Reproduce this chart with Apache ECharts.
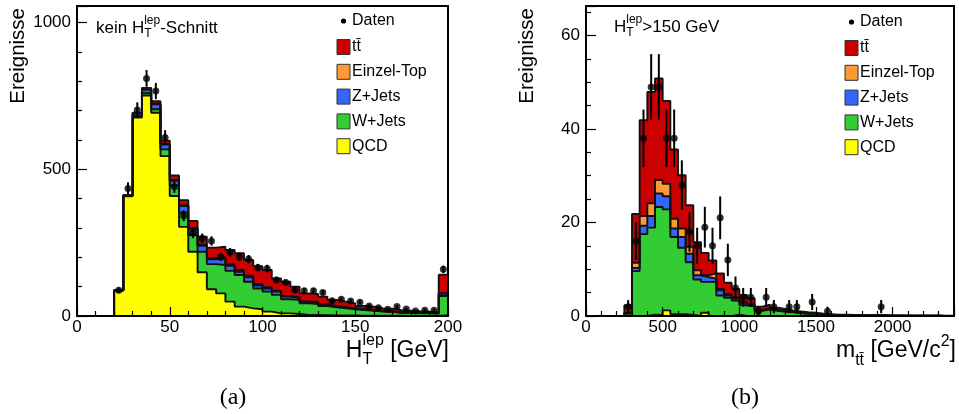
<!DOCTYPE html>
<html>
<head>
<meta charset="utf-8">
<script src="https://cdn.jsdelivr.net/npm/echarts@6/dist/echarts.min.js"></script>
<style>
  html, body { margin: 0; padding: 0; background: #fff; }
  #c { width: 959px; height: 414px; }
</style>
</head>
<body>
<div id="c"></div>
<script>
// ---- (a) H_T^lep, no cut: bin edges in GeV and stacked contributions ----
const htEdges = [0,5,10,15,20,25,30,35,40,45,50,55,60,65,70,75,80,85,90,95,100,105,110,115,120,125,130,135,140,145,150,155,160,165,170,175,180,185,190,195,200];
const htQCD = [0,0,0,0,88,408,677,752,693,545,409,304,219,149,91,77,49,32,26,23,15,9,9,7,4,4,3,2,2,2,1,1,1,1,1,0,0,0,0,3];
const htW   = [0,0,0,0,0,2,5,8,12,23,36,49,57,70,86,97,105,108,91,71,68,63,48,48,39,37,31,28,24,21,19,17,14,13,10,11,9,9,8,65];
const htZ   = [0,0,0,0,0,2,8,12,17,17,16,22,19,20,16,19,17,11,15,11,11,11,9,6,5,5,4,3,3,2,2,2,1,1,1,1,1,1,1,8];
const htST  = [0,0,0,0,0,0,1,1,2,2,3,3,4,4,5,7,5,6,5,4,4,3,2,2,2,2,2,1,1,1,1,1,1,1,0,0,0,0,0,2];
const htTT  = [0,0,0,0,0,0,2,5,8,11,15,17,25,27,35,36,49,57,54,61,59,42,49,37,27,27,26,21,19,17,11,11,9,9,8,6,6,5,5,63];
const htData = [null,null,null,null,88,435,702,810,767,609,441,342,282,265,256,202,217,202,194,165,162,123,114,89,86,86,80,52,57,51,47,34,28,23,32,24,17,20,20,159];

// ---- (b) m_ttbar with H_T^lep > 150 GeV ----
const mEdges = [0,50,100,150,200,250,300,350,400,450,500,550,600,650,700,750,800,850,900,950,1000,1050,1100,1150,1200,1250,1300,1350,1400,1450,1500,1550,1600,1650,1700,1750,1800,1850,1900,1950,2000,2050,2100,2150,2200,2250,2300,2350,2400];
const mQCD = [0,0,0,0,0,0,0,0,0.3,0.2,1.2,0.4,0.4,0.2,0,0.7,0,0,0,0.3,0,0,0,0,0,0,0,0,0,0,0,0,0,0,0,0,0,0,0,0,0,0,0,0,0,0,0,0];
const mW   = [0,0,0,0,0,0.5,9.6,17.5,18.6,23.1,21.6,16.5,14.2,11.3,7.8,6.6,7.3,4.4,3.9,3.0,2.3,2.0,1.1,1.4,1.1,0.9,0.8,0.6,0.5,0.5,0.3,0.25,0.2,0.2,0.15,0.1,0.1,0.1,0.1,0.08,0.08,0.06,0.05,0.05,0.04,0.04,0.03,0.03];
const mZ   = [0,0,0,0,0,0.1,0.7,1.8,2.5,2.9,2.8,1.8,2.3,1.8,0.9,1.0,0.7,1.1,0.5,0.5,0.5,0.3,0.1,0.1,0.1,0.1,0.1,0.1,0,0,0,0,0,0,0,0,0,0,0,0,0,0,0,0,0,0,0,0];
const mST  = [0,0,0,0,0,0.1,1.1,2.1,2.7,2.9,2.7,2.1,1.8,1.5,1.1,0.4,1.1,0.3,0.3,0.2,0.2,0.2,0.1,0.1,0.1,0.1,0,0,0,0,0,0,0,0,0,0,0,0,0,0,0,0,0,0,0,0,0,0];
const mTT  = [0,0,0,0,0,1.6,10.4,20.5,23.8,21.7,17.7,14.8,11.4,8.9,6.0,4.8,2.8,3.3,2.4,1.8,1.5,1.3,0.7,0.8,0.5,0.4,0.3,0.3,0.3,0.2,0.2,0.15,0.1,0.1,0.1,0.1,0.05,0.05,0.05,0.04,0.04,0.03,0.03,0.02,0.02,0.02,0.01,0.01];
const mData = [null,null,null,null,null,2,16,38,49,49,38,38,28,18,15,19,15,21,12,6,4,4,1,4,2,null,2,2,null,3,null,1,null,null,null,null,null,null,2,null,null,null,null,null,null,null,null,null];

// ---- legend entries (bottom of stack first) ----
const procNames  = ['QCD', 'W+Jets', 'Z+Jets', 'Einzel-Top', 't\u0074\u0304'];
const procColors = ['#ffff00', '#33cc33', '#3366ff', '#ff9933', '#cc0000'];
const dataName = 'Daten';

const FONT = '"Liberation Sans", Arial, Helvetica, sans-serif';
const SERIF = '"Liberation Serif", "DejaVu Serif", serif';

const chart = echarts.init(document.getElementById('c'), null, { renderer: 'canvas' });

// running sums of the components, bottom to top
function cumulate(comps) {
  const out = [];
  comps.forEach((vals, k) => {
    out.push(vals.map((v, i) => (k ? out[k - 1][i] : 0) + v));
  });
  return out;
}
// step-histogram points: left edges plus closing point at the last upper edge
function stepPoints(edges, vals) {
  const pts = vals.map((v, i) => [edges[i], v]);
  pts.push([edges[edges.length - 1], vals[vals.length - 1]]);
  return pts;
}
function dataPoints(edges, vals) {
  const pts = [];
  vals.forEach((v, i) => { if (v !== null) pts.push([(edges[i] + edges[i + 1]) / 2, v]); });
  return pts;
}

function histSeries(axis, edges, comps) {
  const cum = cumulate(comps);
  const out = [];
  // fills: the full sum first, each lower partial sum painted over it
  for (let k = cum.length - 1; k >= 0; k--) {
    out.push({
      type: 'line', xAxisIndex: axis, yAxisIndex: axis, step: 'end',
      data: stepPoints(edges, cum[k]), symbol: 'none', silent: true, animation: false,
      z: 2,
      lineStyle: { width: 0 },
      areaStyle: { color: procColors[k], opacity: 1, origin: 'start' }
    });
  }
  // outlines of every partial sum on top of all fills
  for (let k = cum.length - 1; k >= 0; k--) {
    out.push({
      type: 'line', xAxisIndex: axis, yAxisIndex: axis, step: 'end',
      data: stepPoints(edges, cum[k]), symbol: 'none', silent: true, animation: false,
      z: 3,
      lineStyle: { color: '#111', width: 1.9 }
    });
  }
  return out;
}

function dataSeries(axis, edges, vals) {
  const pts = dataPoints(edges, vals);
  return [
    {
      type: 'custom', xAxisIndex: axis, yAxisIndex: axis, data: pts, animation: false, z: 4, silent: true,
      renderItem: function (params, api) {
        const x = api.value(0), v = api.value(1), e = Math.sqrt(v);
        const p1 = api.coord([x, v - e]), p2 = api.coord([x, v + e]);
        return { type: 'line', shape: { x1: p1[0], y1: p1[1], x2: p2[0], y2: p2[1] },
                 style: { stroke: '#000', lineWidth: 2 } };
      }
    },
    {
      type: 'scatter', xAxisIndex: axis, yAxisIndex: axis, data: pts, symbol: 'circle', symbolSize: 7,
      itemStyle: { color: '#000' }, animation: false, z: 5, silent: true
    }
  ];
}

const tickLbl = { fontSize: 17, fontFamily: FONT, color: '#000' };

function bottomAxis(grid, min, max, interval, split) {
  return {
    type: 'value', gridIndex: grid, position: 'bottom', min: min, max: max, interval: interval, z: 10,
    axisLine: { show: true, onZero: false, lineStyle: { color: '#000', width: 2 } },
    axisTick: { show: true, inside: true, length: 9, lineStyle: { color: '#000', width: 1.2 } },
    minorTick: { show: true, splitNumber: split, length: 5, lineStyle: { color: '#000', width: 1.2 } },
    axisLabel: Object.assign({ margin: 3, showMinLabel: true, showMaxLabel: true,
      formatter: v => (v % interval === 0 ? String(v) : '') }, tickLbl),
    splitLine: { show: false }
  };
}
function leftAxis(grid, max, interval, split) {
  return {
    type: 'value', gridIndex: grid, position: 'left', min: 0, max: max, interval: interval, z: 10,
    axisLine: { show: true, onZero: false, lineStyle: { color: '#000', width: 2 } },
    axisTick: { show: true, inside: true, length: 10, lineStyle: { color: '#000', width: 1.2 } },
    minorTick: { show: true, splitNumber: split, length: 5, lineStyle: { color: '#000', width: 1.2 } },
    axisLabel: Object.assign({ margin: 6, formatter: v => (v % interval === 0 ? String(v) : '') }, tickLbl),
    splitLine: { show: false }
  };
}
function frameAxis(grid, pos) {
  return {
    type: 'value', gridIndex: grid, position: pos, min: 0, max: 1, z: 10,
    axisLine: { show: true, onZero: false, lineStyle: { color: '#000', width: 2 } },
    axisTick: { show: false }, axisLabel: { show: false }, splitLine: { show: false }
  };
}

// ---- text with sub/superscripts, laid out piecewise ----
const mctx = document.createElement('canvas').getContext('2d');
function tw(t, s, fam) { mctx.font = s + 'px ' + (fam || FONT); return mctx.measureText(t).width; }
function latex(pieces, x, y, align) {
  const widths = pieces.map(p => p.t !== undefined ? tw(p.t, p.s) :
    Math.max(tw(p.sub.t, p.sub.s), tw(p.sup.t, p.sup.s)));
  const total = widths.reduce((a, b) => a + b, 0);
  let cx = align === 'right' ? x - total : x;
  const els = [];
  pieces.forEach((p, i) => {
    const list = p.t !== undefined ? [p] : [p.sub, p.sup];
    list.forEach(q => els.push({
      type: 'text', x: cx, y: y + (q.dy || 0), silent: true, z: 20,
      style: { text: q.t, font: q.s + 'px ' + FONT, fill: '#000', align: 'left', verticalAlign: 'middle' }
    }));
    cx += widths[i];
  });
  return els;
}

function legend(x, yTop) {
  const els = [];
  els.push({ type: 'circle', shape: { cx: x + 6.5, cy: yTop, r: 2.6 }, style: { fill: '#000' }, silent: true, z: 20 });
  els.push({ type: 'text', x: x + 15, y: yTop, silent: true, z: 20,
    style: { text: dataName, font: '16px ' + FONT, fill: '#000', align: 'left', verticalAlign: 'middle' } });
  const order = [4, 3, 2, 1, 0];
  order.forEach((k, j) => {
    const cy = yTop + 26 + j * 24.8;
    els.push({ type: 'rect', shape: { x: x, y: cy - 7.5, width: 13, height: 15 },
      style: { fill: procColors[k], stroke: '#333', lineWidth: 1 }, silent: true, z: 20 });
    els.push({ type: 'text', x: x + 15, y: cy, silent: true, z: 20,
      style: { text: procNames[k], font: '16px ' + FONT, fill: '#000', align: 'left', verticalAlign: 'middle' } });
  });
  return els;
}

const graphics = []
  .concat(legend(337, 21))
  .concat(legend(845, 22))
  // panel titles
  .concat(latex([{ t: 'kein H', s: 17 }, { sub: { t: 'T', s: 12, dy: 6 }, sup: { t: 'lep', s: 12, dy: -7 } }, { t: '-Schnitt', s: 17 }], 96, 28))
  .concat(latex([{ t: 'H', s: 17 }, { sub: { t: 'T', s: 12, dy: 6 }, sup: { t: 'lep', s: 12, dy: -7 } }, { t: '>150 GeV', s: 17 }], 614, 27))
  // x axis titles
  .concat(latex([{ t: 'H', s: 23 }, { sub: { t: 'T', s: 16, dy: 9 }, sup: { t: 'lep', s: 16, dy: -10 } }, { t: ' [GeV]', s: 23 }], 449, 351, 'right'))
  .concat(latex([{ t: 'm', s: 23 }, { sub: { t: 't\u0074\u0304', s: 16, dy: 10 }, sup: { t: '', s: 16 } }, { t: ' [GeV/c', s: 23 }, { sub: { t: '', s: 16 }, sup: { t: '2', s: 16, dy: -9 } }, { t: ']', s: 23 }], 956, 351, 'right'))
  .concat([
    { type: 'text', x: 18, y: 8, rotation: Math.PI / 2, silent: true, z: 20,
      style: { text: 'Ereignisse', font: '20.5px ' + FONT, fill: '#000', align: 'right', verticalAlign: 'middle' } },
    { type: 'text', x: 527, y: 8, rotation: Math.PI / 2, silent: true, z: 20,
      style: { text: 'Ereignisse', font: '20.5px ' + FONT, fill: '#000', align: 'right', verticalAlign: 'middle' } },
    { type: 'text', x: 233, y: 398, silent: true, z: 20,
      style: { text: '(a)', font: '24px ' + SERIF, fill: '#000', align: 'center', verticalAlign: 'middle' } },
    { type: 'text', x: 745, y: 398, silent: true, z: 20,
      style: { text: '(b)', font: '24px ' + SERIF, fill: '#000', align: 'center', verticalAlign: 'middle' } }
  ]);

const option = {
  backgroundColor: '#fff',
  animation: false,
  grid: [
    { left: 77, top: 6, width: 371, height: 310, show: false },
    { left: 586, top: 6, width: 368, height: 310, show: false }
  ],
  xAxis: [
    bottomAxis(0, 0, 200, 50, 5),
    bottomAxis(1, 0, 2400, 500, 5),
    frameAxis(0, 'top'),
    frameAxis(1, 'top')
  ],
  yAxis: [
    leftAxis(0, 1057, 500, 5),
    leftAxis(1, 66.3, 20, 4),
    frameAxis(0, 'right'),
    frameAxis(1, 'right')
  ],
  series: []
    .concat(histSeries(0, htEdges, [htQCD, htW, htZ, htST, htTT]))
    .concat(dataSeries(0, htEdges, htData))
    .concat(histSeries(1, mEdges, [mQCD, mW, mZ, mST, mTT]))
    .concat(dataSeries(1, mEdges, mData)),
  graphic: graphics
};
chart.setOption(option);
</script>
</body>
</html>
